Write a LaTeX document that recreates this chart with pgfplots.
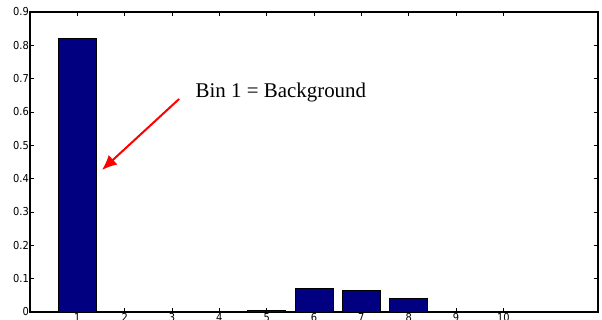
\documentclass[border=0pt]{standalone}
\usepackage{fontspec}
\setmainfont{Liberation Serif}
\newfontfamily\tickfont{DejaVu Sans Condensed}
\usepackage{pgfplots}
\pgfplotsset{compat=1.18}
\usetikzlibrary{arrows.meta}
\definecolor{barblue}{RGB}{0,0,128}
\begin{document}
\begin{tikzpicture}
\begin{axis}[
  at={(0,0)}, anchor=south west,
  scale only axis, width=568bp, height=300bp,
  xmin=0, xmax=12, ymin=0, ymax=0.9,
  xtick={1,...,10}, ytick={0,0.1,...,0.9},
  yticklabels={0,0.1,0.2,0.3,0.4,0.5,0.6,0.7,0.8,0.9},
  tick align=inside, major tick length=4bp,
  tick style={black, line width=0.8bp},
  axis line style={line width=1.4bp},
  ticklabel style={font=\tickfont\fontsize{11}{12}\selectfont, black, inner sep=0.5bp},
  /pgf/number format/assume math mode=true,
  yticklabel style={xshift=-0.5bp},
  xticklabel style={yshift=-1bp},
]
\addplot[ybar, bar width=0.8, fill=barblue, draw=black, line width=0.7bp] coordinates {
(1,0.82) (2,0.0005) (3,0.0005) (4,0.0015) (5,0.005) (6,0.071) (7,0.065) (8,0.041) (9,0.003) (10,0.001)};
\draw[red, line width=2bp, -{Latex[length=15bp,width=13bp]}] (axis cs:3.15,0.639) -- (axis cs:1.52,0.426);
\node[font=\fontsize{21}{25}\selectfont, anchor=base] at (axis cs:5.30,0.643) {Bin 1 = Background};
\end{axis}
\pgfresetboundingbox
\useasboundingbox (-30bp,-8bp) rectangle (572bp,312bp);
\end{tikzpicture}
\end{document}
